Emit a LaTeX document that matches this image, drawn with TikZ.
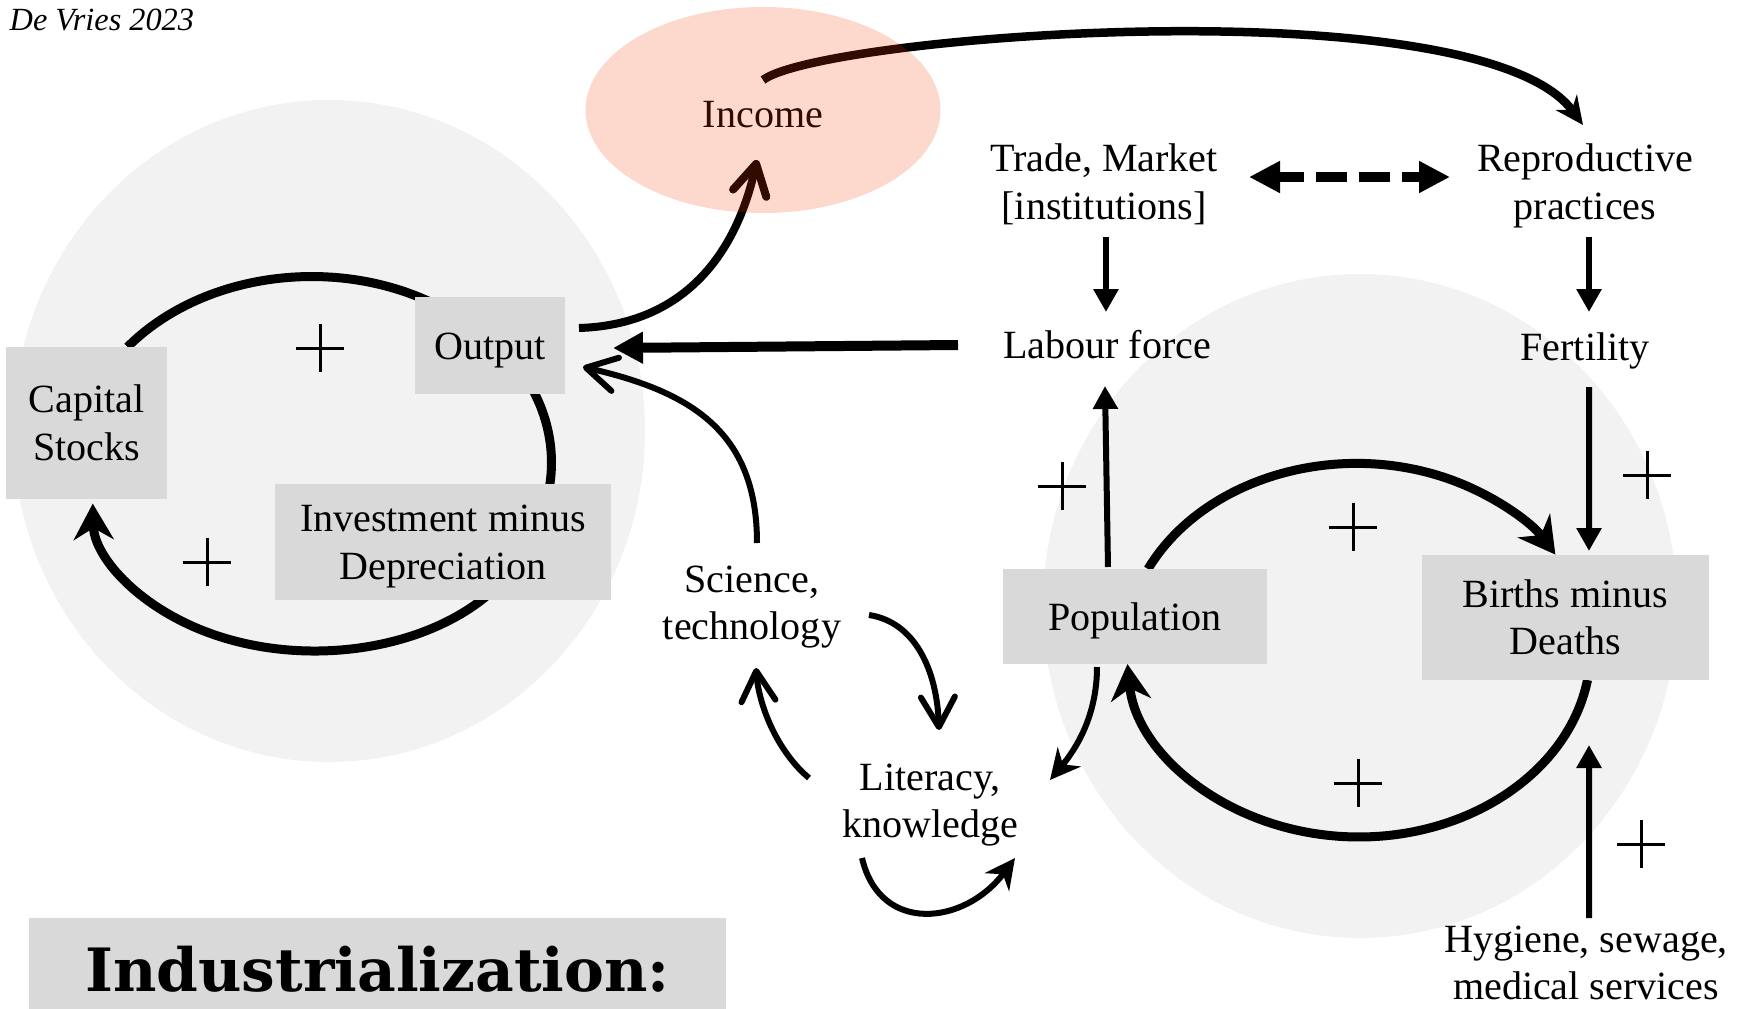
\documentclass[tikz,border=0pt]{standalone}
\usepackage{fontspec}
\setmainfont{Liberation Serif}
\newfontfamily\headfont{DejaVu Serif}
\usetikzlibrary{arrows.meta,calc}
\definecolor{boxgray}{RGB}{217,217,217}
\definecolor{bggray}{RGB}{242,242,242}
\definecolor{incomered}{RGB}{245,59,0}
\pgfdeclarelayer{bgl}
\pgfdeclarelayer{arrl}
\pgfdeclarelayer{topl}
\pgfsetlayers{bgl,arrl,main,topl}
\begin{document}
\begin{tikzpicture}[x=0.1mm,y=-0.1mm,
  txt/.style={font=\fontsize{11.4}{13.6}\selectfont,align=center,inner sep=0pt},
  box/.style={txt,fill=boxgray},
  oneline/.style={text height=10.2pt,text depth=2.5pt},
  twoline/.style={text height=23.8pt,text depth=2.5pt},
  loopline/.style={line width=0.9mm},
  conn/.style={line width=0.6mm},
  vtip/.style={-{Straight Barb[round,length=3mm,width=3.4mm]}},
  ftip/.style={-{Triangle[length=2.3mm,width=2.4mm]}},
  stip/.style={-{Stealth[length=3.6mm,width=4mm]}},
  plusline/.style={line width=0.3mm}]
\useasboundingbox (0,0) rectangle (1738,1009);

\node[anchor=west,font=\fontsize{9.2}{11}\selectfont\itshape,inner sep=0pt] (credit) at (9,20) {De Vries 2023};

\node[box,twoline,minimum width=16.1mm,minimum height=15.2mm] (cap) at (86.5,423) {Capital\\Stocks};
\node[box,oneline,minimum width=15mm,minimum height=9.7mm] (output) at (490,345.5) {Output};
\node[box,twoline,minimum width=33.6mm,minimum height=11.6mm] (inv) at (443,542) {Investment minus\\Depreciation};
\node[box,oneline,minimum width=26.4mm,minimum height=9.5mm] (pop) at (1135,616.5) {Population};
\node[box,twoline,minimum width=28.7mm,minimum height=12.5mm] (births) at (1565.5,617.5) {Births minus\\Deaths};

\node[txt] (income) at (763,115) {Income};
\node[txt] (trade) at (1104,184) {Trade, Market\\{[institutions]}};
\node[txt] (repro) at (1585,186) {Reproductive\\practices};
\node[txt] (labour) at (1107,345) {Labour force};
\node[txt] (fert) at (1585,351) {Fertility};
\node[txt] (sci) at (752,607) {Science,\\technology};
\node[txt] (lit) at (930,805) {Literacy,\\knowledge};
\node[txt] (hyg) at (1586,963) {Hygiene, sewage,\\medical services};

\node[fill=boxgray,minimum width=69.7mm,minimum height=10.2mm,inner sep=0pt,
  font=\headfont\bfseries\fontsize{17}{20}\selectfont] (indust) at (377.5,969) {Industrialization:};

\begin{pgfonlayer}{bgl}
  \fill[bggray] (329,431) ellipse[x radius=31.6mm,y radius=33.1mm];
  \fill[bggray] (1360,606) ellipse[x radius=31.7mm,y radius=33.2mm];
\end{pgfonlayer}

\begin{pgfonlayer}{arrl}
  % capital loop
  \draw[loopline] ($(cap.center)+(41,-76)$) arc[start angle=141.6,end angle=55,x radius=23.5mm,y radius=18.6mm];
  \draw[loopline] ($(output.center)+(30,24)$) arc[start angle=30,end angle=-15,x radius=23.5mm,y radius=18.6mm];
  \draw[loopline,stip] ($(inv.center)+(64,34)$) arc[start angle=-30,end angle=-179,x radius=22.2mm,y radius=15mm];
  % population loop
  \draw[loopline,stip] ($(pop.center)+(13,-47.5)$) arc[start angle=154,end angle=31,x radius=23.2mm,y radius=18.8mm];
  \draw[loopline,stip] ($(births.center)+(22,62.5)$) arc[start angle=-9.5,end angle=-175.4,x radius=23.2mm,y radius=18.8mm];

  \draw[line width=1mm,-{Triangle[length=3mm,width=3mm]}] ($(labour.center)+(-149,0)$) -- ($(output.center)+(123,2.5)$);
  \draw[line width=0.8mm,vtip] ($(output.center)+(89,-17.5)$) .. controls +(100,-3) and +(-22,100) .. ($(income.center)+(-6,45)$);
  \draw[line width=0.85mm,-{Stealth[length=2.8mm,width=2.6mm]}] ($(income.center)+(0,-35)$) .. controls +(60,-45) and +(-103,-140) .. ($(repro.center)+(-2,-61)$);
  \draw[conn,vtip] ($(sci.center)+(5,-64)$) .. controls +(0,-110) and +(110,25) .. ($(output.center)+(93,21.5)$);
  \draw[conn,vtip] ($(sci.center)+(117,8)$) .. controls +(46,7) and +(-2,-60) .. ($(lit.center)+(9,-75)$);
  \draw[conn,vtip] ($(lit.center)+(-121,-27)$) .. controls +(-30,-25) and +(3,40) .. ($(sci.center)+(4,61)$);
  \draw[conn,-{Stealth[length=3mm,width=3mm]}] ($(lit.center)+(-68,53)$) .. controls +(18,77) and +(-50,67) .. ($(lit.center)+(85,53)$);
  \draw[conn,-{Stealth[length=3mm,width=3mm]}] ($(pop.center)+(-38,50.5)$) .. controls +(0,50) and +(25,-30) .. ($(lit.center)+(120,-25)$);

  \draw[conn,ftip] ($(pop.center)+(-27,-49.5)$) -- ($(labour.center)+(-2,41)$);
  \draw[conn,ftip] ($(trade.center)+(2,53)$) -- ($(labour.center)+(-1,-33)$);
  \draw[conn,ftip] ($(repro.center)+(4,51)$) -- ($(fert.center)+(4,-39)$);
  \draw[conn,ftip] ($(fert.center)+(4,36)$) -- ($(births.center)+(23.5,-66.5)$);
  \draw[conn,ftip] ($(hyg.center)+(3,-45)$) -- ($(births.center)+(23.5,127.5)$);
  \draw[line width=1mm,dash pattern=on 3.1mm off 1.2mm,dash phase=0.5mm,
    {Triangle[length=3.1mm,width=3mm]}-{Triangle[length=3.1mm,width=3mm]}]
    ($(trade.center)+(145,-7)$) -- ($(repro.center)+(-135,-9)$);
\end{pgfonlayer}

\foreach \px/\py in {320/348,207/562,1062/486,1353/527,1647/475,1358/783,1641/844}
  \draw[plusline] (\px-24,\py) -- (\px+24,\py) (\px,\py-24) -- (\px,\py+24);

\begin{pgfonlayer}{topl}
  \fill[incomered,opacity=0.2] ($(income.center)+(0,-5)$) ellipse[x radius=17.75mm,y radius=10.3mm];
\end{pgfonlayer}
\end{tikzpicture}
\end{document}
